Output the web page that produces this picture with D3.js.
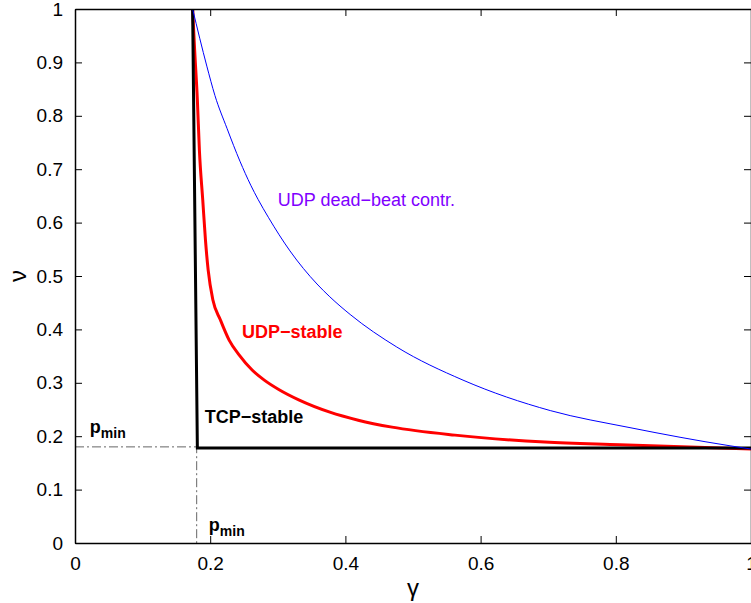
<!DOCTYPE html>
<html>
<head>
<meta charset="utf-8">
<script src="https://cdn.jsdelivr.net/npm/d3@7"></script>
<style>
  body { margin: 0; background: #fff; }
  svg { display: block; font-family: "Liberation Sans", Arial, Helvetica, sans-serif; }
  .axis text { font-size: 19px; fill: #000; }
  .axis path, .axis line { stroke: #000; }
</style>
</head>
<body>
<svg id="chart"></svg>
<script>
// tick values
const xTicks = [0, 0.2, 0.4, 0.6, 0.8, 1];
const yTicks = [0, 0.1, 0.2, 0.3, 0.4, 0.5, 0.6, 0.7, 0.8, 0.9, 1];

const pmin = 0.18;

// TCP-stable boundary (black)
const tcpGamma = [0.174, 0.181, 1.0];
const tcpNu    = [1.0, 0.178, 0.178];

// UDP-stable boundary (red)
const udpGamma = [0.174, 0.177, 0.181, 0.184, 0.189, 0.193, 0.197, 0.204, 0.215, 0.228, 0.243, 0.262, 0.280, 0.302, 0.331, 0.377, 0.419, 0.469, 0.562, 0.695, 0.806, 1.0];
const udpNu    = [1.0, 0.923, 0.830, 0.736, 0.642, 0.567, 0.511, 0.455, 0.418, 0.380, 0.352, 0.324, 0.305, 0.287, 0.268, 0.245, 0.230, 0.217, 0.202, 0.189, 0.184, 0.176];

// UDP dead-beat controller (blue)
const dbGamma = [0.174, 0.195, 0.207, 0.225, 0.244, 0.260, 0.271, 0.286, 0.318, 0.358, 0.377, 0.407, 0.476, 0.574, 0.703, 0.821, 0.969, 1.0];
const dbNu    = [1.0, 0.893, 0.838, 0.776, 0.715, 0.670, 0.643, 0.610, 0.547, 0.485, 0.461, 0.428, 0.367, 0.305, 0.248, 0.216, 0.182, 0.176];

const W = 751, H = 603;
const margin = {top: 9, right: 0, bottom: 60, left: 75};
const width = W - margin.left - margin.right;
const height = H - margin.top - margin.bottom;

let svg = d3.select("#chart").attr("width", W).attr("height", H);
svg.append("rect").attr("width", W).attr("height", H).attr("fill", "#fff");
let g = svg.append("g").attr("transform", "translate(" + margin.left + "," + margin.top + ")");

const x = d3.scaleLinear().domain([0, 1]).range([0, width]);
const y = d3.scaleLinear().domain([0, 1]).range([height, 0]);

const zip = (a, b) => a.map((v, i) => [v, b[i]]);
const line = d3.line().x(d => x(d[0])).y(d => y(d[1]));
const smooth = d3.line().curve(d3.curveMonotoneX).x(d => x(d[0])).y(d => y(d[1]));

// pmin guides (dash-dot)
g.append("path")
  .attr("d", line([[0, pmin], [pmin, pmin], [pmin, 0]]))
  .attr("fill", "none").attr("stroke", "#666").attr("stroke-width", 1)
  .attr("stroke-dasharray", "9,3,2,3");

// curves
g.append("path").attr("d", smooth(zip(udpGamma, udpNu)))
  .attr("fill", "none").attr("stroke", "#ff0000").attr("stroke-width", 3);
g.append("path").attr("d", line(zip(tcpGamma, tcpNu)))
  .attr("fill", "none").attr("stroke", "#000").attr("stroke-width", 3);
g.append("path").attr("d", smooth(zip(dbGamma, dbNu)))
  .attr("fill", "none").attr("stroke", "#0000ff").attr("stroke-width", 1);

// axes, MATLAB style box with inward ticks
const fmt = d3.format("~g");
g.append("g").attr("class", "axis").attr("transform", "translate(0," + height + ")")
  .call(d3.axisBottom(x).tickValues(xTicks).tickFormat(fmt).tickSizeInner(-7).tickSizeOuter(0).tickPadding(14));
g.append("g").attr("class", "axis")
  .call(d3.axisLeft(y).tickValues(yTicks).tickFormat(fmt).tickSizeInner(-7).tickSizeOuter(0).tickPadding(12));
g.append("g").attr("class", "axis")
  .call(d3.axisTop(x).tickValues(xTicks).tickFormat("").tickSizeInner(-7).tickSizeOuter(0));
g.append("g").attr("class", "axis").attr("transform", "translate(" + width + ",0)")
  .call(d3.axisRight(y).tickValues(yTicks).tickFormat("").tickSizeInner(-7).tickSizeOuter(0));
g.selectAll(".axis path").attr("stroke-width", 1.5);

// axis labels
svg.append("text").attr("x", margin.left + width / 2).attr("y", 596)
  .attr("text-anchor", "middle").style("font-size", "24px").text("γ");
svg.append("text").attr("transform", "translate(26," + (margin.top + height / 2) + ") rotate(-90)")
  .attr("text-anchor", "middle").style("font-size", "24px").text("ν");

// annotations
g.append("text").attr("x", x(0.30)).attr("y", y(0.632))
  .attr("fill", "#8000ff").style("font-size", "18px").text("UDP dead−beat contr.");
g.append("text").attr("x", x(0.247)).attr("y", y(0.384))
  .attr("fill", "#ff0000").style("font-size", "18px").style("font-weight", "bold").text("UDP−stable");
g.append("text").attr("x", x(0.192)).attr("y", y(0.225))
  .attr("fill", "#000").style("font-size", "18px").style("font-weight", "bold").text("TCP−stable");

const pminLabel = (gx, gy) => {
  let t = g.append("text").attr("x", x(gx)).attr("y", y(gy))
    .style("font-size", "18px").style("font-weight", "bold");
  t.append("tspan").text("p");
  t.append("tspan").attr("dy", 5).style("font-size", "14px").text("min");
};
pminLabel(0.022, 0.206);
pminLabel(0.198, 0.022);
</script>
</body>
</html>
